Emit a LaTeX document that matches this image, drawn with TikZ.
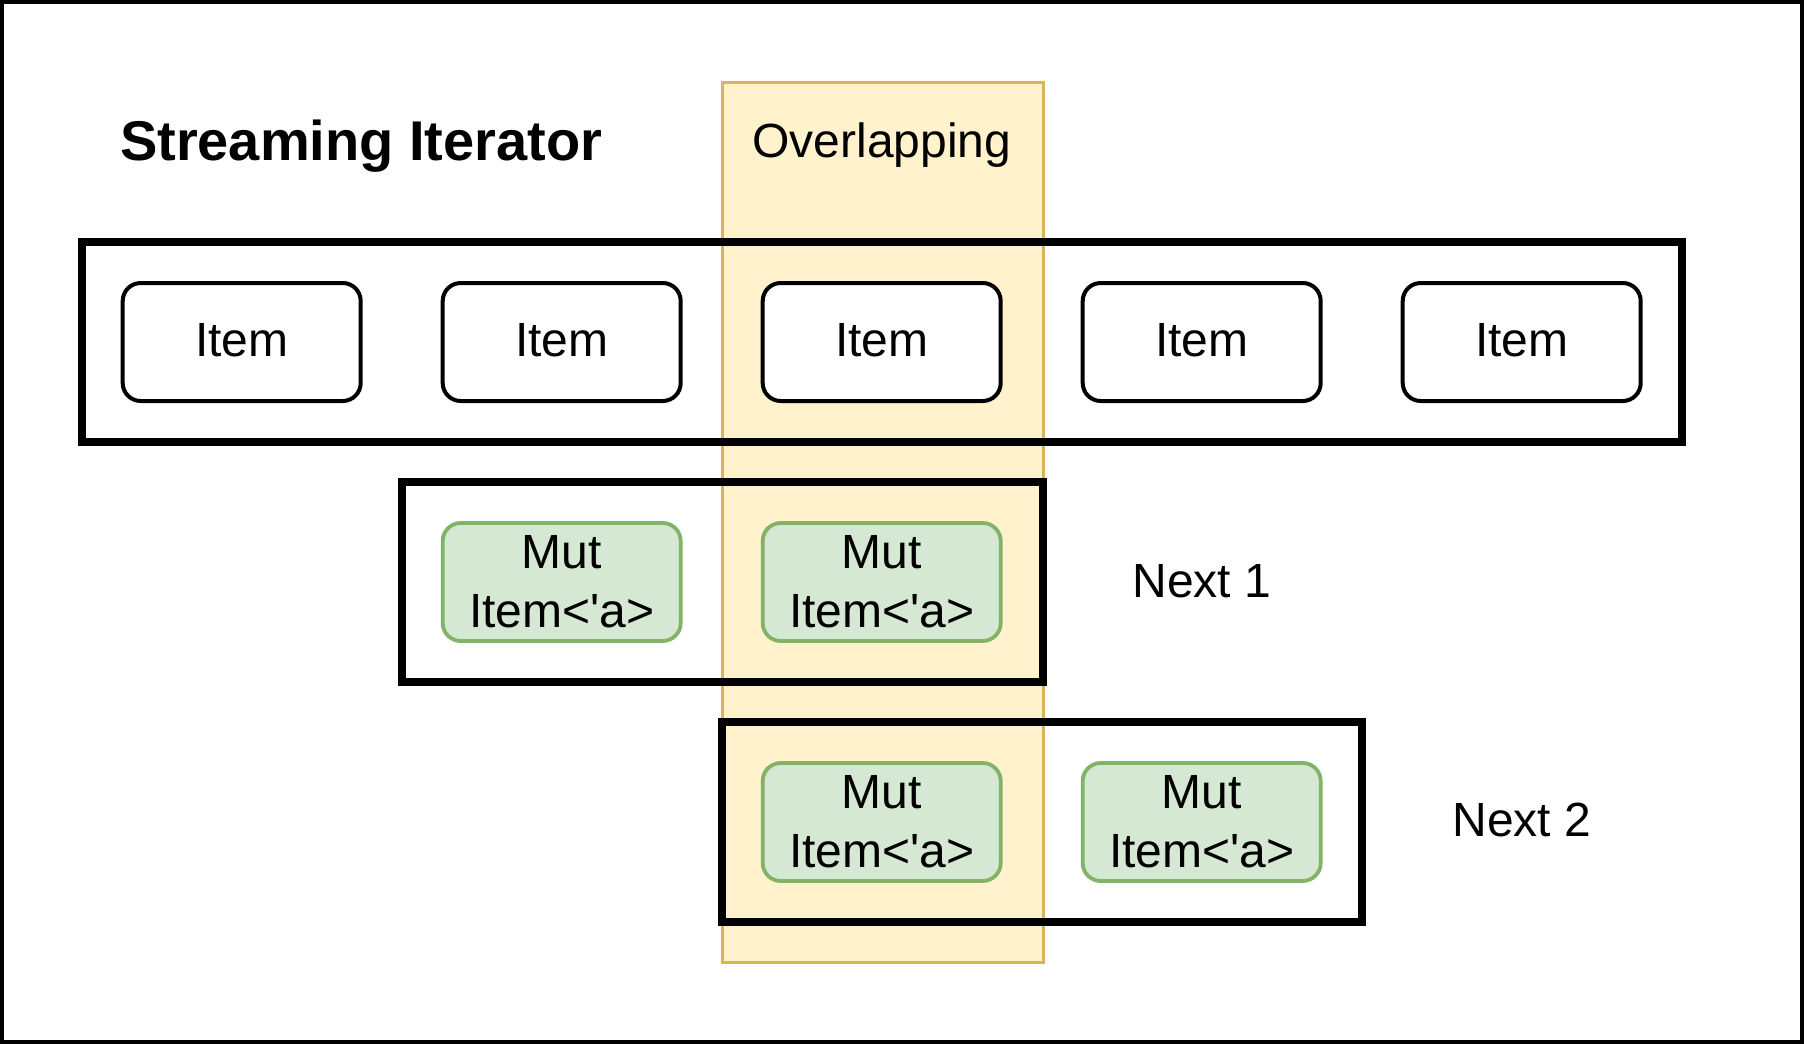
\documentclass[tikz,border=0pt]{standalone}
\usepackage{fontspec}
\setmainfont{Liberation Sans}[Ligatures=TeXOff]
\definecolor{yfill}{HTML}{FFF2CC}
\definecolor{ystroke}{HTML}{D6B656}
\definecolor{gfill}{HTML}{D5E8D4}
\definecolor{gstroke}{HTML}{82B366}
\begin{document}
\begin{tikzpicture}[x=1pt,y=-1pt,
  every node/.style={font=\fontsize{48}{59.4}\selectfont, inner sep=0pt, outer sep=0pt},
  itembox/.style={draw=black, fill=white, line width=4pt, rounded corners=18pt,
    minimum width=238pt, minimum height=118pt, text height=35pt, text depth=7pt},
  greenbox/.style={draw=gstroke, fill=gfill, line width=3.8pt, rounded corners=18pt,
    minimum width=238pt, minimum height=118pt, align=center},
  groupbox/.style={draw=black, line width=8pt, minimum height=200pt},
  colbox/.style={draw=ystroke, fill=yfill, line width=3pt,
    minimum width=321pt, minimum height=880pt},
  lbl/.style={anchor=base}]
\useasboundingbox (0,0) rectangle (1808,1044);
\node[draw=black, line width=4pt, minimum width=1800pt, minimum height=1040pt] (frame) at (902,522) {};
% overlapping column
\node[colbox] (col) at (882.5,522) {};
\node[lbl] (ovl) at (882,157) {Overlapping};
% title
\node[anchor=base west, font=\fontsize{56}{67}\selectfont\bfseries] (title) at (120,160) {Streaming Iterator};
% group frames
\node[groupbox, minimum width=1600pt] (row) at (882,342) {};
\node[groupbox, minimum width=641pt] (next1box) at (722.5,582) {};
\node[groupbox, minimum width=640pt] (next2box) at (1042,822) {};
% items
\node[itembox] (item1) at (241.7,342) {Item};
\node[itembox] (item2) at (561.7,342) {Item};
\node[itembox] (item3) at (881.7,342) {Item};
\node[itembox] (item4) at (1201.7,342) {Item};
\node[itembox] (item5) at (1521.7,342) {Item};
% mutable items
\node[greenbox] (g11) at (561.7,582) {Mut\\Item<'a>};
\node[greenbox] (g12) at (881.7,582) {Mut\\Item<'a>};
\node[greenbox] (g21) at (881.7,822) {Mut\\Item<'a>};
\node[greenbox] (g22) at (1201.7,822) {Mut\\Item<'a>};
% labels
\node[lbl] (n1) at (1201.7,597) {Next 1};
\node[lbl] (n2) at (1522,836.7) {Next 2};
\end{tikzpicture}
\end{document}
